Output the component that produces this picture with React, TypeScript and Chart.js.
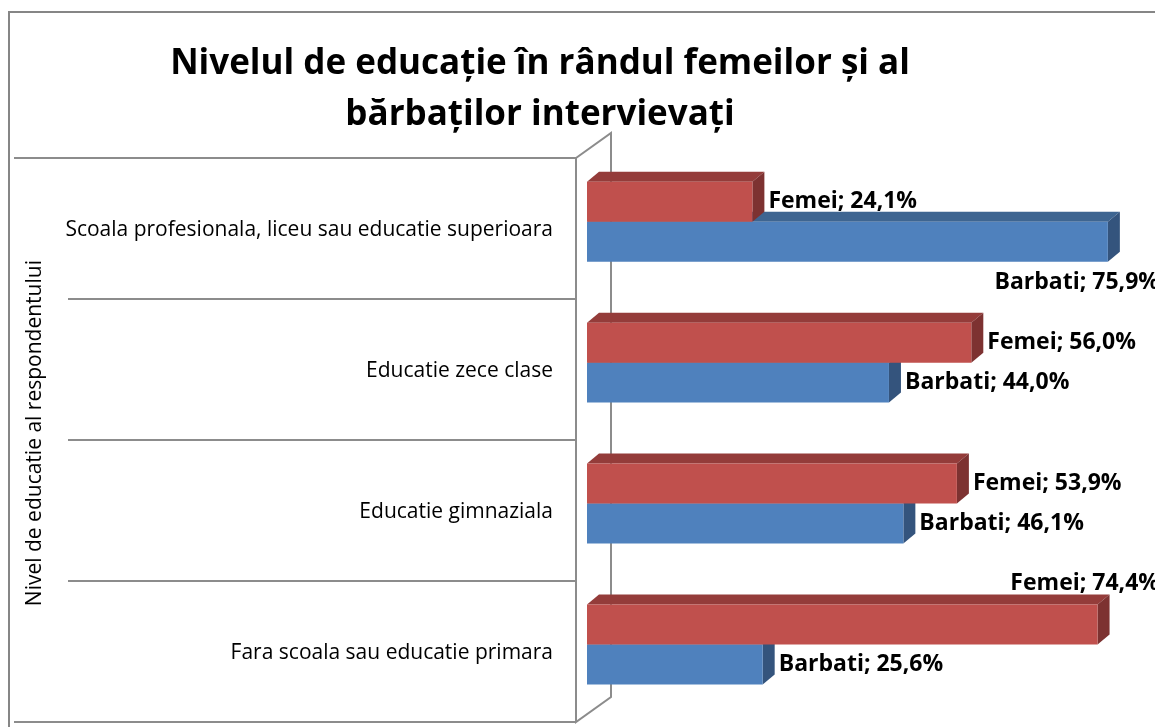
import React, { useEffect, useRef } from "react";
import { Chart, registerables } from "chart.js";

Chart.register(...registerables);

// ---- data ----
const categories = [
  "Scoala profesionala, liceu sau educatie superioara",
  "Educatie zece clase",
  "Educatie gimnaziala",
  "Fara scoala sau educatie primara",
];
const seriesNames = ["Femei", "Barbati"];
const femei = [24.1, 56.0, 53.9, 74.4];
const barbati = [75.9, 44.0, 46.1, 25.6];
const titleLines = ["Nivelul de educație în rândul femeilor și al", "bărbaților intervievați"];
const axisTitle = "Nivel de educatie al respondentului";
const valueMax = 80;

// ---- styles ----
const FONT = "'Open Sans', Lato, sans-serif";
const frontColors = ["#C0504D", "#4F81BD"];
const topColors = ["#943C3A", "#3E6591"];
const sideColors = ["#7D3231", "#34547D"];
const DX = 12;
const DY = 10;
const LINE = "#8C8C8C";

const decor = {
  id: "decor",
  afterLayout(chart: any) {
    const t = chart.titleBlock;
    if (t) {
      t.left = 0;
      t.right = 1080;
      t.width = 1080;
    }
  },
  beforeDraw(chart: any) {
    const { ctx, chartArea: a, scales } = chart;
    ctx.save();
    ctx.fillStyle = "#fff";
    ctx.fillRect(0, 0, chart.width, chart.height);
    ctx.strokeStyle = "#868686";
    ctx.lineWidth = 2;
    ctx.strokeRect(9, 12, chart.width + 20, chart.height + 20);

    const ys = scales.y;
    const n = categories.length;
    const band = ys.getPixelForValue(1) - ys.getPixelForValue(0);
    const frontX = a.left - 11;
    const backX = a.left + 24;
    ctx.strokeStyle = LINE;
    ctx.lineWidth = 2;
    const edges: number[] = [];
    for (let i = 0; i <= n; i++) {
      const yy = Math.round(ys.getPixelForValue(i) - band / 2 + 7);
      edges.push(yy);
      const x0 = i === 0 || i === n ? 14 : 68;
      ctx.beginPath();
      ctx.moveTo(x0, yy);
      ctx.lineTo(frontX, yy);
      ctx.stroke();
    }
    const topY = edges[0];
    const botY = edges[n];
    ctx.beginPath();
    ctx.moveTo(frontX, topY);
    ctx.lineTo(frontX, botY);
    ctx.lineTo(backX, botY - 25);
    ctx.lineTo(backX, topY - 25);
    ctx.lineTo(frontX, topY);
    ctx.stroke();
    ctx.restore();
  },
  beforeDatasetsDraw(chart: any) {
    const { ctx } = chart;
    ctx.save();
    for (let d = chart.data.datasets.length - 1; d >= 0; d--) {
      const meta = chart.getDatasetMeta(d);
      meta.data.forEach((el: any) => {
        const { x, y, base, height } = el.getProps(["x", "y", "base", "height"], true);
        const top = y - height / 2;
        const bottom = y + height / 2;
        const left = Math.min(base, x);
        const right = Math.max(base, x);
        ctx.fillStyle = topColors[d];
        ctx.beginPath();
        ctx.moveTo(left, top);
        ctx.lineTo(left + DX, top - DY);
        ctx.lineTo(right + DX, top - DY);
        ctx.lineTo(right, top);
        ctx.closePath();
        ctx.fill();
        ctx.fillStyle = sideColors[d];
        ctx.beginPath();
        ctx.moveTo(right, top);
        ctx.lineTo(right + DX, top - DY);
        ctx.lineTo(right + DX, bottom - DY);
        ctx.lineTo(right, bottom);
        ctx.closePath();
        ctx.fill();
      });
    }
    ctx.restore();
  },
  afterDatasetsDraw(chart: any) {
    const { ctx } = chart;
    ctx.save();
    ctx.font = `bold 23px ${FONT}`;
    ctx.fillStyle = "#000";
    ctx.textBaseline = "middle";
    ctx.textAlign = "left";
    chart.data.datasets.forEach((ds: any, d: number) => {
      const meta = chart.getDatasetMeta(d);
      meta.data.forEach((el: any, i: number) => {
        const v = ds.data[i] as number;
        const txt = `${ds.label}; ${v.toFixed(1).replace(".", ",")}%`;
        const w = ctx.measureText(txt).width;
        const { x, y } = el.getProps(["x", "y"], true);
        let tx = x + 16;
        let ty = y;
        if (tx + w > chart.width) {
          tx = chart.width + 4 - w;
          ty = d === 0 ? y - 41 : y + 41;
        }
        ctx.fillText(txt, tx, ty);
      });
    });
    ctx.restore();
  },
};

export default function App() {
  const ref = useRef<HTMLCanvasElement>(null);
  useEffect(() => {
    if (!ref.current) return;
    const chart = new Chart(ref.current, {
      type: "bar",
      data: {
        labels: categories,
        datasets: [
          { label: seriesNames[0], data: femei, backgroundColor: frontColors[0], borderWidth: 0 },
          { label: seriesNames[1], data: barbati, backgroundColor: frontColors[1], borderWidth: 0 },
        ],
      },
      options: {
        indexAxis: "y",
        animation: false,
        responsive: false,
        devicePixelRatio: 1,
        categoryPercentage: 0.567,
        barPercentage: 1,
        layout: { autoPadding: false, padding: { top: 0, left: 8, right: 19, bottom: 12 } },
        plugins: {
          legend: { display: false },
          tooltip: { enabled: false },
          title: {
            display: true,
            text: titleLines,
            color: "#000",
            font: { family: FONT, size: 35, weight: "bold", lineHeight: 1.46 },
            padding: { top: 38, bottom: 11 },
          },
        },
        scales: {
          x: { display: false, min: 0, max: valueMax },
          y: {
            afterFit(scale: any) {
              scale.width = 579;
              scale.paddingTop = 0;
              scale.paddingBottom = 0;
            },
            grid: { display: false, drawTicks: false },
            border: { display: false },
            ticks: {
              padding: 34,
              labelOffset: 8,
              color: "#000",
              font: { family: FONT, size: 21 },
            },
            title: {
              display: true,
              text: axisTitle,
              color: "#000",
              font: { family: FONT, size: 21 },
              padding: { top: 14, bottom: 0 },
            },
          },
        },
      },
      plugins: [decor],
    } as any);
    return () => chart.destroy();
  }, []);
  return (
    <div style={{ position: "absolute", left: 0, top: 0, width: 1155, height: 727, background: "#fff" }}>
      <canvas ref={ref} width={1155} height={727} />
    </div>
  );
}
